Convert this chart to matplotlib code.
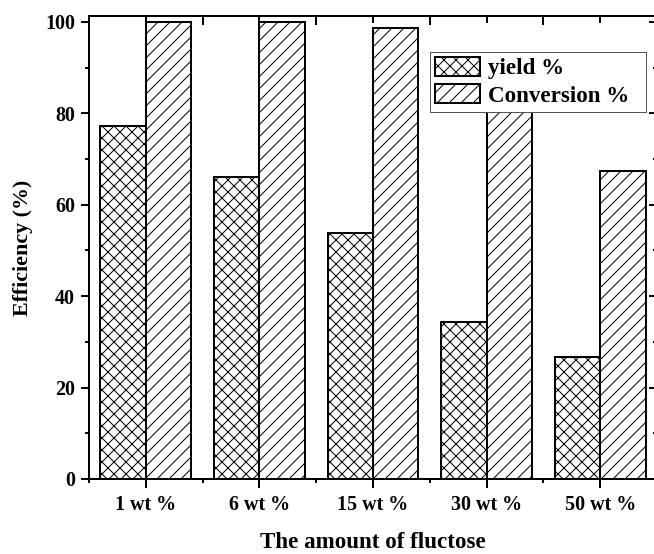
import matplotlib
matplotlib.use("Agg")
import matplotlib.pyplot as plt
import numpy as np
from matplotlib.ticker import MultipleLocator, FixedLocator

categories = ["1 wt %", "6 wt %", "15 wt %", "30 wt %", "50 wt %"]
yield_pct = [77.2, 66.0, 53.8, 34.4, 26.8]
conversion_pct = [100.0, 100.0, 98.6, 88.0, 67.3]

plt.rcParams['font.family'] = ['Liberation Serif', 'DejaVu Serif']
plt.rcParams['font.weight'] = 'bold'
plt.rcParams['hatch.linewidth'] = 1.0

fig = plt.figure(figsize=(654 / 72, 554 / 72), dpi=72)
ax = fig.add_axes([89 / 654, 1 - 479 / 554, 568 / 654, 463 / 554])

x = np.arange(1, len(categories) + 1)
w = 0.4
ax.bar(x - w / 2, yield_pct, w, facecolor='white', edgecolor='black',
       hatch='xx', linewidth=2, label='yield %')
ax.bar(x + w / 2, conversion_pct, w, facecolor='white', edgecolor='black',
       hatch='//', linewidth=2, label='Conversion %  ')

ax.set_xlim(0.5, 5.5)
ax.set_ylim(0, 101.3)
ax.set_xticks(x)
ax.set_xticklabels(categories)
ax.xaxis.set_minor_locator(FixedLocator(np.arange(0.5, 6, 1.0)))
ax.yaxis.set_major_locator(MultipleLocator(20))
ax.yaxis.set_minor_locator(MultipleLocator(10))

for s in ax.spines.values():
    s.set_linewidth(2)

ax.tick_params(axis='both', which='major', labelsize=20, width=2, length=8)
ax.tick_params(axis='both', which='minor', width=2, length=4)
ax.tick_params(axis='x', which='both', direction='out', top=False)
ax.tick_params(axis='y', which='both', direction='out', right=False)
ax.tick_params(axis='x', which='major', pad=7, length=9)
ax.tick_params(axis='y', which='major', pad=6)

# inward ticks on top and right
sec_x = ax.secondary_xaxis('top')
sec_x.set_xticks(x)
sec_x.set_xticklabels([])
sec_x.xaxis.set_minor_locator(FixedLocator(np.arange(0.5, 6, 1.0)))
sec_x.tick_params(which='major', direction='in', length=7, width=2)
sec_x.tick_params(which='minor', direction='in', length=9, width=2)
sec_x.spines['top'].set_linewidth(2)

sec_y = ax.secondary_yaxis('right')
sec_y.yaxis.set_major_locator(MultipleLocator(20))
sec_y.yaxis.set_minor_locator(MultipleLocator(10))
sec_y.set_yticklabels([])
sec_y.tick_params(which='major', direction='in', length=8, width=2)
sec_y.tick_params(which='minor', direction='in', length=4, width=2)

ax.set_xlabel("The amount of fluctose", fontsize=23, fontweight='bold', labelpad=17)
ax.set_ylabel("Efficiency (%)", fontsize=22, fontweight='bold', labelpad=12)

leg = ax.legend(loc='upper left', bbox_to_anchor=(0.600, 0.922), borderaxespad=0,
                fontsize=23, fancybox=False, framealpha=1, edgecolor='#555555',
                handlelength=1.95, handleheight=0.85, handletextpad=0.35,
                labelspacing=0.22, borderpad=0.22)
leg.get_frame().set_linewidth(1)
for h in leg.legend_handles:
    h.set_linewidth(2)

fig.savefig("out.png", dpi=72)
